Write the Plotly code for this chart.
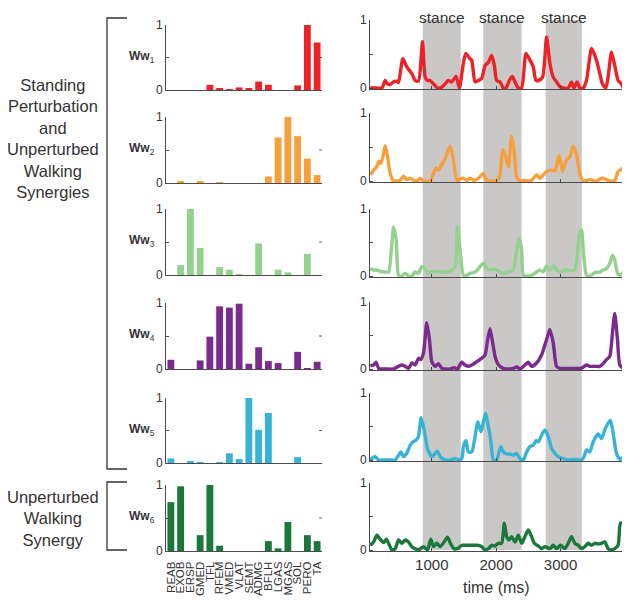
import plotly.graph_objects as go

# ---------------- data ----------------
MUSCLES = ["REAB", "EXOB", "ERSP", "GMED", "TFL", "RFEM", "VMED", "VLAT",
           "SEMT", "ADMG", "BFLH", "LGAS", "MGAS", "SOL", "PERO", "TA"]

W1 = [0, 0, 0, 0, 0.08, 0.02, 0.01, 0.04, 0.03, 0.13, 0.08, 0, 0, 0.07, 1.0, 0.73]
W2 = [0, 0.03, 0, 0.03, 0, 0.01, 0, 0, 0, 0, 0.10, 0.69, 1.0, 0.71, 0.37, 0.12]
W3 = [0, 0.15, 1.0, 0.41, 0, 0.12, 0.08, 0.005, 0, 0.48, 0, 0.08, 0.04, 0, 0.32, 0]
W4 = [0.14, 0, 0, 0.13, 0.49, 0.95, 0.93, 0.99, 0.08, 0.33, 0.12, 0.09, 0, 0.26, 0.01, 0.11]
W5 = [0.07, 0, 0.025, 0.01, 0, 0.01, 0.15, 0.06, 1.0, 0.51, 0.77, 0, 0, 0.09, 0, 0]
W6 = [0.74, 0.98, 0, 0.24, 1.0, 0.08, 0, 0, 0, 0, 0.15, 0.04, 0.44, 0, 0.24, 0.15]

SYN_LABELS = ["1", "2", "3", "4", "5", "6"]
COLORS = ["#ec2227", "#f7a03b", "#93d28e", "#7b2a8d", "#37b4d5", "#1a783b"]

T1 = [44, 96, 147, 225, 276, 313, 354, 406, 457, 483, 550, 612, 690, 742, 793, 855, 897, 933, 974, 1026,
      1088, 1155, 1207, 1258, 1310, 1377, 1429, 1481, 1527, 1594, 1620, 1672, 1724, 1775, 1827, 1879, 1930,
      1972, 2008, 2059, 2111, 2153, 2204, 2250, 2292, 2344, 2395, 2463, 2525, 2576, 2618, 2654, 2721, 2783,
      2835, 2886, 2938, 2990, 3041, 3119, 3171, 3207, 3258, 3300, 3351, 3403, 3481, 3558, 3610, 3651, 3703,
      3739, 3791, 3842, 3894, 3946, 3972]
C1 = [0.01, 0.0, 0, 0, 0.11, 0.06, 0.05, 0.09, 0.10, 0.08, 0.43, 0.31, 0.21, 0.11, 0.10, 0.68, 0.16, 0.11, 0.11, 0.06,
      0, 0.01, 0.06, 0.11, 0.09, 0.17, 0, 0.31, 0.51, 0.43, 0.41, 0.09, 0.11, 0.14, 0.33, 0.38, 0.48,
      0.33, 0.11, 0.09, 0, 0, 0.11, 0.17, 0.09, 0, 0.0, 0.51, 0.41, 0.31, 0.11, 0.11, 0.16, 0.75,
      0.36, 0.16, 0.09, 0.02, 0, 0, 0.09, 0, 0.09, 0, 0, 0.11, 0.58, 0.41, 0.21, 0.06, 0,
      0.16, 0.53, 0.33, 0.11, 0.06, 0]

T2 = [44, 96, 147, 173, 209, 251, 276, 313, 354, 406, 457, 509, 561, 612, 664, 716, 767, 819, 871, 974,
      1026, 1067, 1103, 1155, 1207, 1284, 1336, 1388, 1439, 1491, 1543, 1594, 1656, 1724, 1801, 1853, 1956,
      2008, 2059, 2101, 2147, 2189, 2240, 2282, 2318, 2370, 2421, 2473, 2550, 2628, 2680, 2731, 2783, 2860,
      2912, 2979, 3031, 3093, 3145, 3196, 3248, 3300, 3351, 3403, 3455, 3506, 3558, 3636, 3713, 3765, 3842,
      3894, 3946, 3972]
C2 = [0.09, 0.16, 0.21, 0.29, 0.26, 0.41, 0.52, 0.36, 0.11, 0, 0, 0.01, 0.07, 0.02, 0.04, 0.01, 0, 0.04, 0, 0,
      0.11, 0.19, 0.16, 0.24, 0.33, 0.51, 0.31, 0, 0.03, 0.04, 0.01, 0.04, 0.01, 0.04, 0.11, 0.01, 0,
      0, 0.09, 0.46, 0.36, 0.21, 0.66, 0.41, 0.06, 0, 0.01, 0, 0.01, 0.09, 0.04, 0.09, 0.14, 0.16,
      0.15, 0.38, 0.14, 0.31, 0.36, 0.51, 0.38, 0.11, 0, 0.01, 0.02, 0.01, 0, 0.04, 0.02, 0, 0.01,
      0.14, 0.17, 0.19]

T3 = [44, 96, 147, 199, 276, 328, 380, 406, 447, 483, 535, 587, 638, 690, 742, 793, 845, 897, 933, 974,
      1052, 1129, 1207, 1284, 1362, 1398, 1450, 1491, 1543, 1594, 1672, 1749, 1801, 1853, 1904, 1956, 2008,
      2059, 2111, 2189, 2266, 2318, 2359, 2395, 2421, 2473, 2550, 2628, 2680, 2731, 2783, 2835, 2897, 2938,
      3000, 3067, 3145, 3222, 3289, 3326, 3362, 3403, 3455, 3532, 3610, 3662, 3713, 3765, 3806, 3842, 3884,
      3920, 3972]
C3 = [0.11, 0.09, 0.09, 0.07, 0.06, 0.06, 0.49, 0.73, 0.54, 0.01, 0, 0.04, 0, 0, 0.06, 0.04, 0.14, 0.11, 0.04, 0.06,
      0.07, 0.06, 0.06, 0.07, 0.14, 0.74, 0.29, 0.01, 0.01, 0.04, 0.06, 0.14, 0.19, 0.11, 0.09, 0.10, 0.09,
      0.06, 0.04, 0.06, 0.09, 0.39, 0.56, 0.39, 0.01, 0, 0.01, 0.06, 0.09, 0.06, 0.15, 0.09, 0.16, 0.09,
      0.06, 0.09, 0.08, 0.09, 0.59, 0.69, 0.29, 0.01, 0, 0.05, 0.06, 0.09, 0.11, 0.19, 0.31, 0.24, 0.04,
      0.01, 0.06]

T4 = [44, 96, 137, 173, 225, 302, 406, 483, 535, 587, 638, 690, 742, 793, 829, 871, 922, 964, 1000, 1052,
      1103, 1155, 1207, 1284, 1346, 1398, 1465, 1517, 1568, 1620, 1672, 1775, 1827, 1868, 1904, 1946, 1982,
      2018, 2059, 2111, 2189, 2266, 2318, 2370, 2447, 2499, 2550, 2628, 2705, 2783, 2835, 2886, 2938, 2990,
      3067, 3145, 3248, 3326, 3403, 3455, 3532, 3610, 3662, 3713, 3765, 3806, 3842, 3884, 3920, 3972]
C4 = [0.05, 0.06, 0.10, 0.01, 0, 0, 0, 0.04, 0.06, 0.04, 0.01, 0.09, 0.06, 0.16, 0.14, 0.24, 0.69, 0.44, 0.11, 0.04,
      0.08, 0.01, 0, 0, 0.02, 0, 0.10, 0.06, 0.04, 0.06, 0.09, 0.16, 0.21, 0.44, 0.60, 0.39, 0.19,
      0.09, 0.04, 0.01, 0, 0.01, 0.03, 0, 0.06, 0.10, 0.04, 0.09, 0.21, 0.44, 0.59, 0.39, 0.04, 0.01,
      0.01, 0.01, 0.01, 0.01, 0.06, 0.04, 0.04, 0.04, 0.08, 0.14, 0.19, 0.54, 0.83, 0.44, 0.06, 0.01]

T5 = [44, 91, 121, 173, 251, 354, 432, 483, 519, 561, 612, 664, 705, 757, 793, 835, 881, 933, 1000, 1052,
      1088, 1129, 1207, 1284, 1362, 1413, 1465, 1491, 1532, 1568, 1620, 1672, 1713, 1765, 1801, 1837, 1879,
      1915, 1956, 2008, 2070, 2111, 2163, 2214, 2266, 2318, 2370, 2421, 2473, 2525, 2576, 2618, 2654, 2705,
      2757, 2809, 2860, 2912, 2964, 3041, 3119, 3196, 3300, 3351, 3403, 3455, 3506, 3584, 3636, 3687, 3739,
      3775, 3817, 3868, 3920, 3972]
C5 = [0, 0.04, 0.05, 0, 0, 0, 0, 0.07, 0.12, 0.05, 0.10, 0.22, 0.27, 0.30, 0.35, 0.63, 0.45, 0.17, 0.05, 0.10,
      0.13, 0.05, 0, 0, 0.02, 0, 0.02, 0.20, 0.29, 0.12, 0.12, 0.35, 0.57, 0.42, 0.57, 0.70, 0.50,
      0.30, 0, 0, 0.20, 0.12, 0.09, 0.09, 0.07, 0.10, 0.02, 0, 0.12, 0.20, 0.22, 0.29, 0.27, 0.37,
      0.45, 0.35, 0.17, 0.10, 0.05, 0.02, 0, 0.01, 0, 0.02, 0.15, 0.12, 0.27, 0.39, 0.32, 0.45, 0.55,
      0.59, 0.40, 0.10, 0.01, 0.04]

T6 = [44, 96, 147, 199, 251, 292, 328, 380, 432, 483, 535, 587, 638, 690, 742, 793, 871, 933, 984, 1026,
      1078, 1129, 1191, 1243, 1295, 1346, 1398, 1465, 1517, 1594, 1672, 1724, 1775, 1827, 1879, 1930, 1982,
      2034, 2085, 2127, 2163, 2199, 2240, 2292, 2344, 2395, 2447, 2499, 2550, 2592, 2654, 2705, 2757, 2835,
      2886, 2938, 3000, 3067, 3119, 3171, 3222, 3274, 3326, 3377, 3429, 3481, 3532, 3584, 3636, 3687, 3739,
      3791, 3842, 3894, 3930, 3972]
C6 = [0.07, 0.12, 0.22, 0.16, 0.11, 0.16, 0.10, 0, 0.02, 0.15, 0.10, 0.15, 0.12, 0.05, 0.02, 0, 0.05, 0, 0.16, 0.05,
      0.10, 0.05, 0.12, 0.19, 0.09, 0.02, 0.02, 0.07, 0.07, 0.07, 0.07, 0.07, 0.05, 0, 0.02, 0.07, 0.06,
      0.10, 0.10, 0.40, 0.20, 0.15, 0.20, 0.12, 0.22, 0.10, 0.20, 0.30, 0.20, 0.10, 0.06, 0.02, 0.05, 0.02,
      0.07, 0.02, 0.07, 0.02, 0.10, 0.20, 0.10, 0.07, 0.02, 0.05, 0.10, 0.07, 0.10, 0.09, 0.10, 0.12, 0.02,
      0, 0.02, 0.07, 0.40, 0.40]

STANCE_START = [860, 1800, 2770]
STANCE_END = [1450, 2395, 3330]
STANCE_LABEL = "stance"
TIME_TICKS = [1000, 2000, 3000]

WEIGHTS = [W1, W2, W3, W4, W5, W6]
TIMES = [T1, T2, T3, T4, T5, T6]
COEFS = [C1, C2, C3, C4, C5, C6]

# ---------------- layout helpers ----------------
FW, FH = 630, 601
OFF = 8   # page offset of the plot div (browser body margin)
FONT = "Liberation Sans, Arial, Helvetica, sans-serif"
TXT = "#333333"
AX = "#4a4a4a"


def fx(p):
    return (p - OFF) / FW


def fy(p):
    return 1 - (p - OFF) / FH


def xn(n):
    return "x" if n == 1 else f"x{n}"


def yn(n):
    return "y" if n == 1 else f"y{n}"


def xk(n):
    return "xaxis" if n == 1 else f"xaxis{n}"


def yk(n):
    return "yaxis" if n == 1 else f"yaxis{n}"


BAR_X = (166, 322)
TS_X = (370, 623)
BAR_TOP = [25, 117, 209, 303, 398, 485]
BAR_ZERO = [90, 183, 275, 369, 463, 551]
TS_TOP = [20, 113, 209, 302, 393, 483]
TS_ZERO = [88, 181, 276, 369, 460, 550]
TS_YMIN = -0.02
TS_XRANGE = [40, 3970]

fig = go.Figure()
layout = {}

for i in range(6):
    b = i + 1          # bar subplot index
    t = i + 7          # time subplot index
    last = (i == 5)

    fig.add_trace(go.Bar(
        x=MUSCLES, y=WEIGHTS[i], width=0.7,
        marker=dict(color=COLORS[i], line=dict(width=0)),
        xaxis=xn(b), yaxis=yn(b), showlegend=False, hoverinfo="x+y"))

    fig.add_trace(go.Scatter(
        x=TIMES[i], y=COEFS[i], mode="lines",
        line=dict(color=COLORS[i], width=3.4, shape="spline", smoothing=0.6),
        xaxis=xn(t), yaxis=yn(t), showlegend=False))

    ytick_common = dict(
        showline=True, linecolor=AX, linewidth=1, ticks="inside", ticklen=3,
        tickcolor=AX, tickwidth=1, tickvals=[0, 0.5, 1], ticktext=["0", "", "1"],
        tickfont=dict(size=12, color=TXT, family=FONT), showgrid=False,
        zeroline=False, fixedrange=True, automargin=False)

    layout[xk(b)] = dict(
        domain=[fx(BAR_X[0]), fx(BAR_X[1])], anchor=yn(b), type="category",
        categoryorder="array", categoryarray=MUSCLES,
        tickmode="array", tickvals=MUSCLES, ticktext=MUSCLES,
        range=[-0.5, len(MUSCLES) - 0.5], showline=True, linecolor=AX, linewidth=1,
        ticks="", showticklabels=last, tickangle=-90, ticklabelstandoff=5,
        tickfont=dict(size=11.5, color=TXT, family=FONT), showgrid=False,
        zeroline=False, fixedrange=True, automargin=False)
    layout[yk(b)] = dict(
        domain=[fy(BAR_ZERO[i]), fy(BAR_TOP[i])], anchor=xn(b), range=[0, 1],
        **ytick_common)

    span = TS_ZERO[i] - TS_TOP[i]
    bottom = TS_ZERO[i] + (-TS_YMIN) * span
    layout[xk(t)] = dict(
        domain=[fx(TS_X[0]), fx(TS_X[1])], anchor=yn(t), range=TS_XRANGE,
        tickvals=TIME_TICKS, ticks="inside", ticklen=3, tickcolor=AX,
        showline=True, linecolor=AX, linewidth=1, showticklabels=last,
        tickfont=dict(size=15, color=TXT, family=FONT), showgrid=False,
        zeroline=False, fixedrange=True, automargin=False)
    layout[yk(t)] = dict(
        domain=[fy(bottom), fy(TS_TOP[i])], anchor=xn(t), range=[TS_YMIN, 1],
        **ytick_common)

shapes = []
annotations = []

# stance bands
for s, e in zip(STANCE_START, STANCE_END):
    shapes.append(dict(type="rect", xref="x7", yref="paper", x0=s, x1=e,
                       y0=fy(TS_ZERO[5]), y1=fy(TS_TOP[0]),
                       fillcolor="#cac7c7", line=dict(width=0), layer="below"))
    annotations.append(dict(x=(s + e) / 2, xref="x7", y=1, yref="paper",
                            text=STANCE_LABEL, showarrow=False,
                            font=dict(size=15.5, color=TXT, family=FONT),
                            xanchor="center", yanchor="top", borderpad=0))

# mirrored right ticks on bar panels
for i in range(6):
    b = i + 1
    shapes.append(dict(type="line", xref=f"{xn(b)} domain", yref=yn(b),
                       x0=1, x1=0.982, y0=0.5, y1=0.5,
                       line=dict(color=AX, width=1)))

# synergy labels
for i in range(6):
    yc = (BAR_TOP[i] + BAR_ZERO[i]) / 2
    annotations.append(dict(x=fx(127), y=fy(yc - 1), xref="paper", yref="paper",
                            text=f"<b>Ww</b><sub>{SYN_LABELS[i]}</sub>",
                            showarrow=False, xanchor="left", yanchor="middle",
                            font=dict(size=12, color=TXT, family=FONT)))


def bracket(top, bot):
    x0, x1 = fx(107), fx(127)
    return dict(type="path", xref="paper", yref="paper",
                path=f"M {x1},{fy(top)} L {x0},{fy(top)} L {x0},{fy(bot)} L {x1},{fy(bot)}",
                line=dict(color=TXT, width=1.3))


shapes.append(bracket(18, 469))
shapes.append(bracket(482, 550))

annotations.append(dict(x=fx(53), y=fy(138), xref="paper", yref="paper",
                        text="Standing<br>Perturbation<br>and<br>Unperturbed<br>Walking<br>Synergies",
                        showarrow=False, xanchor="center", yanchor="middle", align="center",
                        font=dict(size=16.5, color=TXT, family=FONT)))
annotations.append(dict(x=fx(53), y=fy(518), xref="paper", yref="paper",
                        text="Unperturbed<br>Walking<br>Synergy",
                        showarrow=False, xanchor="center", yanchor="middle", align="center",
                        font=dict(size=16.5, color=TXT, family=FONT)))

annotations.append(dict(x=0.5, xref="x12 domain", y=fy(587), yref="paper",
                        text="time (ms)", showarrow=False, xanchor="center", yanchor="middle",
                        font=dict(size=16, color=TXT, family=FONT)))

fig.update_layout(
    width=FW, height=FH, margin=dict(l=0, r=0, t=0, b=0, pad=0, autoexpand=False),
    paper_bgcolor="white", plot_bgcolor="rgba(0,0,0,0)",
    font=dict(family=FONT, color=TXT), bargap=0.3,
    shapes=shapes, annotations=annotations, showlegend=False,
    **layout)

fig.write_html("out.html")
